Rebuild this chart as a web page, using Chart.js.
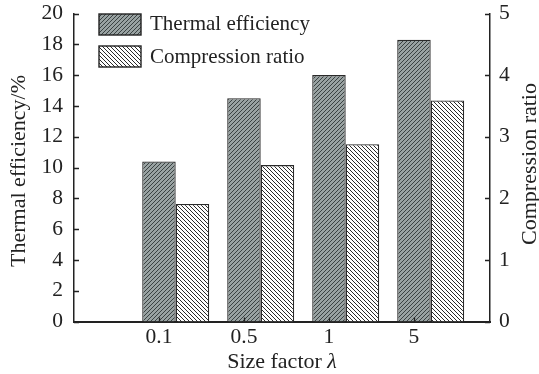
<!DOCTYPE html>
<html>
<head>
<meta charset="utf-8">
<script src="https://cdn.jsdelivr.net/npm/chart.js@4.4.1/dist/chart.umd.min.js"></script>
<style>
    html, body { margin: 0; padding: 0; background: #fff; }
    #wrap { width: 539px; height: 374px; }
</style>
</head>
<body>
<div id="wrap"><canvas id="chart" width="539" height="374"></canvas></div>
<script>
// Data
const sizeLabels = ['0.1', '0.5', '1', '5'];
const thermalEff = [10.4, 14.5, 16.0, 18.3];   // %
const compRatio = [1.91, 2.54, 2.88, 3.59];
const seriesNames = ['Thermal efficiency', 'Compression ratio'];

const serif = "'Liberation Serif', 'Times New Roman', serif";
const ink = '#222';
const catPct = 0.788;

// Hatch fills
function makeHatch(bg, color, size, dir) {
    const c = document.createElement('canvas');
    c.width = size; c.height = size;
    const g = c.getContext('2d');
    g.fillStyle = bg;
    g.fillRect(0, 0, size, size);
    g.strokeStyle = color;
    g.lineWidth = 1;
    g.beginPath();
    if (dir === '/') {
        g.moveTo(0, size); g.lineTo(size, 0);
        g.moveTo(-1, 1); g.lineTo(1, -1);
        g.moveTo(size - 1, size + 1); g.lineTo(size + 1, size - 1);
    } else {
        g.moveTo(0, 0); g.lineTo(size, size);
        g.moveTo(-1, size - 1); g.lineTo(1, size + 1);
        g.moveTo(size - 1, -1); g.lineTo(size + 1, 1);
    }
    g.stroke();
    return g.createPattern(c, 'repeat');
}

const ctx = document.getElementById('chart').getContext('2d');
const darkHatch = makeHatch('#99a2a2', '#3a4242', 4, '/');
const lightHatch = makeHatch('#ffffff', '#2a2a2a', 4, '\\');

// Inward ticks, titles and legend
const decor = {
    id: 'decor',
    afterDraw(chart) {
        const c = chart.ctx;
        const { x, y, y1 } = chart.scales;
        c.save();
        c.strokeStyle = ink;
        c.lineWidth = 1.3;
        c.beginPath();
        y.ticks.forEach(t => {
            const py = Math.round(y.getPixelForValue(t.value)) + 0.5;
            c.moveTo(x.left, py); c.lineTo(x.left + 5, py);
        });
        y1.ticks.forEach(t => {
            const py = Math.round(y1.getPixelForValue(t.value)) + 0.5;
            c.moveTo(x.right, py); c.lineTo(x.right - 5, py);
        });
        x.ticks.forEach(t => {
            const px = Math.round(x.getPixelForValue(t.value)) + 0.5;
            c.moveTo(px, y.bottom); c.lineTo(px, y.bottom - 4);
        });
        c.stroke();

        c.fillStyle = ink;
        c.textBaseline = 'alphabetic';
        // x title
        const t1 = 'Size factor ';
        c.font = 'italic 22px ' + serif;
        const wl = c.measureText('\u03bb').width;
        c.font = '22px ' + serif;
        const w1 = c.measureText(t1).width;
        const cx = (x.left + x.right) / 2;
        const sx = cx - (w1 + wl) / 2;
        c.textAlign = 'left';
        c.fillText(t1, sx, 368);
        c.font = 'italic 22px ' + serif;
        c.fillText('\u03bb', sx + w1, 368);

        // y titles
        c.font = '22px ' + serif;
        c.textAlign = 'center';
        c.save();
        c.translate(25, 171);
        c.rotate(-Math.PI / 2);
        c.fillText('Thermal efficiency/%', 0, 0);
        c.restore();
        c.save();
        c.translate(536, 164);
        c.rotate(-Math.PI / 2);
        c.fillText('Compression ratio', 0, 0);
        c.restore();

        // legend
        const fills = [darkHatch, lightHatch];
        const tops = [14, 46];
        const bases = [30, 63];
        c.textAlign = 'left';
        c.font = '21px ' + serif;
        seriesNames.forEach((name, i) => {
            c.fillStyle = fills[i];
            c.fillRect(99, tops[i], 42, 21);
            c.lineWidth = 1.4;
            c.strokeStyle = ink;
            c.strokeRect(99, tops[i], 42, 21);
            c.fillStyle = ink;
            c.fillText(name, 150, bases[i]);
        });
        c.restore();
    }
};

const tickFont = { family: serif, size: 21.5 };

function fixWidth(w) {
    return function(scale) {
        scale.width = w;
        scale.paddingTop = 0;
        scale.paddingBottom = 0;
    };
}

new Chart(ctx, {
    type: 'bar',
    data: {
        datasets: [
            {
                label: seriesNames[0],
                data: thermalEff.map((v, i) => ({ x: i, y: v })),
                backgroundColor: darkHatch,
                borderColor: '#2a2a2a',
                borderWidth: 1.3,
                yAxisID: 'y'
            },
            {
                label: seriesNames[1],
                data: compRatio.map((v, i) => ({ x: i, y: v })),
                backgroundColor: lightHatch,
                borderColor: '#2a2a2a',
                borderWidth: 1.3,
                yAxisID: 'y1'
            }
        ]
    },
    options: {
        responsive: false,
        animation: false,
        categoryPercentage: catPct,
        barPercentage: 1.0,
        layout: { padding: { top: 13.5, left: 0, right: 0, bottom: 0 } },
        plugins: {
            legend: { display: false },
            tooltip: { enabled: false }
        },
        scales: {
            x: {
                type: 'linear',
                offset: false,
                min: -1.1965,
                max: 3.6976,
                grid: { display: false, drawTicks: false },
                border: { display: true, color: ink, width: 2 },
                afterBuildTicks: function(scale) {
                    scale.ticks = sizeLabels.map((_, i) => ({ value: i - catPct / 4 }));
                },
                afterFit: function(scale) {
                    scale.height = 52.4;
                    scale.paddingLeft = 0;
                    scale.paddingRight = 0;
                },
                ticks: {
                    autoSkip: false,
                    maxRotation: 0,
                    padding: 3,
                    color: ink,
                    font: tickFont,
                    callback: function(value, index) { return sizeLabels[index]; }
                }
            },
            y: {
                position: 'left',
                min: 0,
                max: 20,
                grid: { display: false, drawTicks: false },
                border: { display: true, color: ink, width: 1.5 },
                afterFit: fixWidth(74),
                ticks: { stepSize: 2, padding: 11, color: ink, font: tickFont }
            },
            y1: {
                position: 'right',
                min: 0,
                max: 5,
                grid: { display: false, drawTicks: false },
                border: { display: true, color: ink, width: 1.5 },
                afterFit: fixWidth(49),
                ticks: { stepSize: 1, padding: 9, color: ink, font: tickFont }
            }
        }
    },
    plugins: [decor]
});
</script>
</body>
</html>
